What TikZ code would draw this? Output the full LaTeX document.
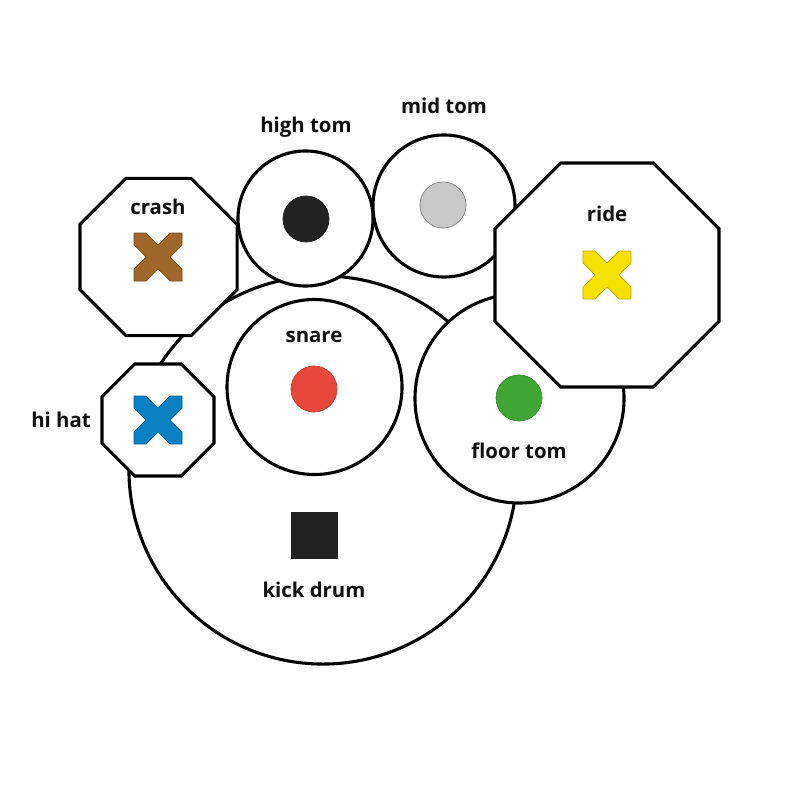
\documentclass[tikz,border=0pt]{standalone}
\usepackage{fontspec}
\setmainfont{Open Sans}
\usepackage{tikz}
\usetikzlibrary{shapes.geometric,positioning}
\definecolor{ink}{HTML}{111111}
\definecolor{crashbrown}{HTML}{A0672B}
\definecolor{hatblue}{HTML}{0A80C4}
\definecolor{rideyellow}{HTML}{F5E100}
\definecolor{snarered}{HTML}{E8473C}
\definecolor{floorgreen}{HTML}{3FA535}
\definecolor{darkdot}{HTML}{222222}
\definecolor{greydot}{HTML}{C8C8C8}
\tikzset{
  drum/.style={circle, draw=black, fill=white, line width=2.2pt, inner sep=0pt},
  cymbal/.style={regular polygon, regular polygon sides=8, draw=black, fill=white,
    line width=2.2pt, inner sep=0pt},
  dot/.style={circle, fill=#1, draw=#1!85!black, line width=0.5pt,
    minimum size=1.15cm, inner sep=0pt},
  lbl/.style={font=\fontsize{14.5}{16}\selectfont\bfseries, text=ink, inner sep=0pt},
  pics/xmark/.style={code={
    \fill[#1, draw=#1!75!black, line width=0.5pt]
      (-24,-24) -- (-12,-24) -- (0,-12) -- (12,-24) -- (24,-24) -- (24,-12)
      -- (12,0) -- (24,12) -- (24,24) -- (12,24) -- (0,12) -- (-12,24)
      -- (-24,24) -- (-24,12) -- (-12,0) -- (-24,-12) -- cycle;
  }},
}
\begin{document}
\begin{tikzpicture}[x=0.025cm, y=-0.025cm]
  \useasboundingbox[fill=white] (0,0) rectangle (800,800);

  % shells, back to front
  \node[drum, minimum size=9.7cm] (kick) at (323,470) {};
  \node[cymbal, minimum size=4.25cm] (crash) at (158.5,257) {};
  \node[drum, minimum size=3.375cm] (hightom) at (305.5,218.5) {};
  \node[drum, minimum size=4.375cm] (snare) at (314.5,387) {};
  \node[cymbal, minimum size=3.03cm] (hihat) at (158,420) {};
  \node[drum, minimum size=3.55cm] (midtom) at (444,206) {};
  \node[drum, minimum size=5.225cm] (floortom) at (519.5,398.5) {};
  \node[cymbal, minimum size=6.06cm] (ride) at (607,275) {};

  % hit marks
  \node[dot=darkdot] (hightomdot) at (306,219) {};
  \node[dot=greydot, draw=gray] (midtomdot) at (443,205) {};
  \node[dot=snarered] (snaredot) at (314,389) {};
  \node[dot=floorgreen] (floortomdot) at (519,398) {};
  \node[fill=darkdot, minimum size=1.175cm, inner sep=0pt] (kickdot) at (314.5,535.5) {};
  \pic at (158,257) {xmark=crashbrown};
  \pic at (158,420) {xmark=hatblue};
  \pic at (607,275) {xmark=rideyellow};

  % labels
  \node[lbl] (crashlbl) at (158,207) {crash};
  \node[lbl] (hihatlbl) at (61,420) {hi hat};
  \node[lbl] (hightomlbl) at (306,127) {high tom};
  \node[lbl] (midtomlbl) at (444,106) {mid tom};
  \node[lbl] (ridelbl) at (607,214) {ride};
  \node[lbl] (snarelbl) at (314,337) {snare};
  \node[lbl] (floortomlbl) at (519,451) {floor tom};
  \node[lbl] (kicklbl) at (314,590) {kick drum};
\end{tikzpicture}
\end{document}
